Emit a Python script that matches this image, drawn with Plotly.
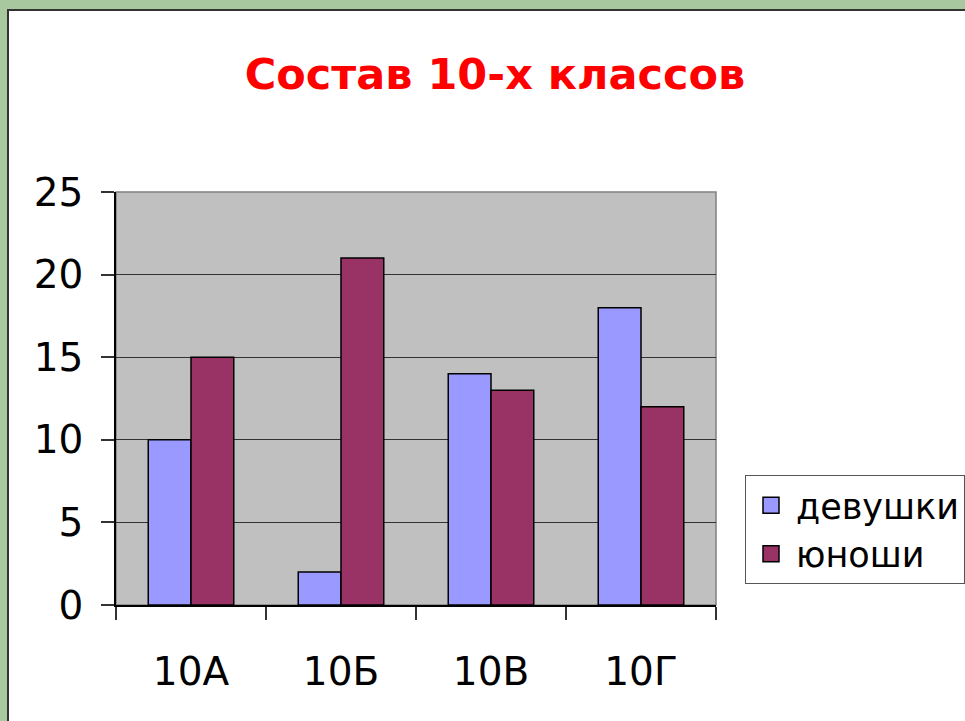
import plotly.graph_objects as go

categories = ["10А", "10Б", "10В", "10Г"]
girls = [10, 2, 14, 18]
boys = [15, 21, 13, 12]
series_names = ["девушки", "юноши"]
series_colors = ["#9999FF", "#993366"]
y_ticks = [0, 5, 10, 15, 20, 25]

W, H = 965, 721
L, R, T, B = 116, W - 716, 192, H - 605
pw, ph = W - L - R, H - T - B

font = "DejaVu Sans, Verdana, sans-serif"

fig = go.Figure()
for vals, name, col in zip([girls, boys], series_names, series_colors):
    fig.add_trace(go.Bar(x=categories, y=vals, name=name, showlegend=False,
                         marker=dict(color=col, line=dict(color="#000000", width=1.5))))
# legend entries with larger square swatches
for name, col in zip(series_names, series_colors):
    fig.add_trace(go.Scatter(x=[None], y=[None], mode="markers", name=name,
                             marker=dict(symbol="square", size=16, color=col,
                                         line=dict(color="#000000", width=1.5))))

# white panel
fig.add_shape(type="rect", xref="paper", yref="paper",
              x0=(8 - L) / pw, x1=(W + 20 - L) / pw,
              y0=(ph - (H + 20 - T)) / ph, y1=(605 - 10) / ph,
              fillcolor="#FFFFFF", line=dict(color="#333333", width=2), layer="below")
# gray plot area
fig.add_shape(type="rect", xref="paper", yref="paper", x0=0, x1=1, y0=0, y1=1,
              fillcolor="#C0C0C0", line=dict(color="#808080", width=1.5), layer="below")

fig.update_layout(
    width=W, height=H,
    margin=dict(l=L, r=R, t=T, b=B, autoexpand=False),
    paper_bgcolor="#A8C8A0",
    plot_bgcolor="rgba(0,0,0,0)",
    title=dict(text="<b>Состав 10-х классов</b>", x=495 / W, xanchor="center",
               y=1 - 74 / H, yanchor="middle", yref="container",
               font=dict(family=font, size=43, color="#FF0000")),
    barmode="group", bargap=0.43, bargroupgap=0,
    showlegend=True,
    legend=dict(x=(745 - L) / pw, xanchor="left", y=(605 - 475) / ph, yanchor="top",
                bgcolor="#FFFFFF", bordercolor="#555555", borderwidth=1,
                font=dict(family=font, size=35, color="#000000"),
                tracegroupgap=0, itemwidth=40, itemsizing="trace"),
    font=dict(family=font, color="#000000"),
)
fig.update_xaxes(type="category", tickson="boundaries", ticks="outside", ticklen=13,
                 tickcolor="#333333", tickwidth=1.5, showline=True, linecolor="#000000",
                 linewidth=1.5, showgrid=False, tickfont=dict(size=39, family=font),
                 ticklabelstandoff=31)
fig.update_yaxes(range=[0, 25], tickvals=y_ticks, ticks="outside", ticklen=13,
                 tickcolor="#333333", tickwidth=1.5, showline=True, linecolor="#000000",
                 linewidth=1.5, showgrid=True, gridcolor="#333333", gridwidth=1,
                 zeroline=False, tickfont=dict(size=39, family=font),
                 ticklabelstandoff=10)

fig.write_html("out.html", config={"displayModeBar": False},
               post_script="document.body.style.margin='0';document.body.style.overflow='hidden';")
